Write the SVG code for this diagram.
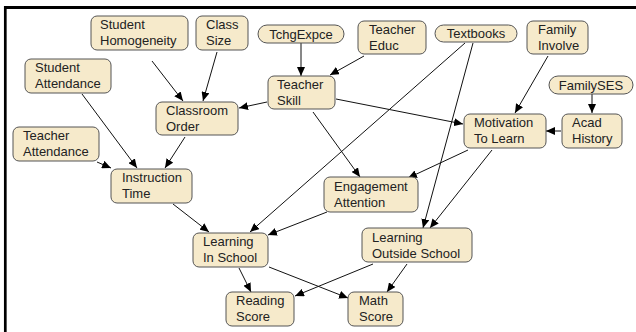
<svg xmlns="http://www.w3.org/2000/svg" width="636" height="332" viewBox="0 0 636 332">
<style>
.n rect{fill:#f6eacb;stroke:#555;stroke-width:1}
.n text{font-family:"Liberation Sans",Arial,sans-serif;font-size:13px;fill:#222}
.p text{text-anchor:middle}
#edges line{stroke:#111;stroke-width:1;marker-end:url(#ah)}
</style>
<defs>
<marker id="ah" markerUnits="userSpaceOnUse" markerWidth="10" markerHeight="8" refX="9" refY="4" orient="auto">
<path d="M0,0 L9,4 L0,8 Z" fill="#000"/>
</marker>
</defs>
<rect x="0" y="0" width="636" height="332" fill="#fff"/>
<line x1="5.3" y1="6" x2="5.3" y2="332" stroke="#000" stroke-width="2.7"/>
<line x1="4" y1="7.5" x2="636" y2="7.5" stroke="#000" stroke-width="3"/>
<g id="edges">
<line x1="152" y1="61" x2="183" y2="101"/>
<line x1="217" y1="52" x2="203" y2="101"/>
<line x1="82" y1="94" x2="137" y2="168"/>
<line x1="97" y1="162" x2="111" y2="168"/>
<line x1="185" y1="137" x2="165" y2="168"/>
<line x1="301" y1="43" x2="301" y2="76"/>
<line x1="364" y1="56" x2="330" y2="75"/>
<line x1="267" y1="102" x2="239" y2="108"/>
<line x1="336" y1="99" x2="463" y2="124"/>
<line x1="313" y1="112" x2="360" y2="177"/>
<line x1="465" y1="43" x2="250" y2="232"/>
<line x1="473" y1="43" x2="423" y2="228"/>
<line x1="548" y1="56" x2="515" y2="113"/>
<line x1="592" y1="94" x2="592" y2="113"/>
<line x1="561" y1="131" x2="546" y2="131"/>
<line x1="468" y1="150" x2="408" y2="178"/>
<line x1="492" y1="150" x2="430" y2="228"/>
<line x1="173" y1="204" x2="209" y2="232"/>
<line x1="327" y1="212" x2="268" y2="235"/>
<line x1="239" y1="268" x2="251" y2="292"/>
<line x1="269" y1="267" x2="348" y2="298"/>
<line x1="373" y1="264" x2="295" y2="296"/>
<line x1="407" y1="264" x2="387" y2="292"/>
</g>
<g id="student-homogeneity" class="n"><rect x="91" y="16" width="97" height="34" rx="6"/><text x="100" y="29">Student</text><text x="100" y="45">Homogeneity</text></g>
<g id="class-size" class="n"><rect x="196" y="16" width="52" height="34" rx="6"/><text x="206" y="29">Class</text><text x="206" y="45">Size</text></g>
<g id="tchgexpce" class="n p"><rect x="258" y="25" width="86" height="18" rx="9"/><text x="301" y="38.5">TchgExpce</text></g>
<g id="teacher-educ" class="n"><rect x="358" y="21" width="68" height="33" rx="6"/><text x="369" y="34">Teacher</text><text x="369" y="50">Educ</text></g>
<g id="textbooks" class="n p"><rect x="435" y="25" width="82" height="17" rx="8.5"/><text x="476" y="38">Textbooks</text></g>
<g id="family-involve" class="n"><rect x="527" y="21" width="61" height="33" rx="6"/><text x="538" y="34">Family</text><text x="538" y="50">Involve</text></g>
<g id="student-attendance" class="n"><rect x="25" y="59" width="86" height="34" rx="6"/><text x="35" y="72">Student</text><text x="35" y="88">Attendance</text></g>
<g id="teacher-skill" class="n"><rect x="268" y="76" width="67" height="33" rx="6"/><text x="277" y="89">Teacher</text><text x="277" y="105">Skill</text></g>
<g id="familyses" class="n p"><rect x="549" y="76" width="84" height="18" rx="9"/><text x="591" y="89.5">FamilySES</text></g>
<g id="classroom-order" class="n"><rect x="156" y="102" width="82" height="33" rx="6"/><text x="166" y="115">Classroom</text><text x="166" y="131">Order</text></g>
<g id="motivation" class="n"><rect x="464" y="114" width="82" height="34" rx="6"/><text x="474" y="127">Motivation</text><text x="474" y="143">To Learn</text></g>
<g id="acad-history" class="n"><rect x="562" y="114" width="60" height="34" rx="6"/><text x="572" y="127">Acad</text><text x="572" y="143">History</text></g>
<g id="teacher-attendance" class="n"><rect x="13" y="127" width="86" height="34" rx="6"/><text x="23" y="140">Teacher</text><text x="23" y="156">Attendance</text></g>
<g id="instruction-time" class="n"><rect x="111" y="169" width="81" height="34" rx="6"/><text x="122" y="182">Instruction</text><text x="122" y="198">Time</text></g>
<g id="engagement" class="n"><rect x="324" y="177" width="94" height="35" rx="6"/><text x="334" y="191">Engagement</text><text x="334" y="207">Attention</text></g>
<g id="learning-outside" class="n"><rect x="362" y="228" width="110" height="34" rx="6"/><text x="372" y="242">Learning</text><text x="372" y="258">Outside School</text></g>
<g id="learning-in" class="n"><rect x="193" y="233" width="75" height="34" rx="6"/><text x="203" y="246">Learning</text><text x="203" y="262">In School</text></g>
<g id="reading-score" class="n"><rect x="226" y="292" width="68" height="34" rx="6"/><text x="236" y="305">Reading</text><text x="236" y="321">Score</text></g>
<g id="math-score" class="n"><rect x="348" y="292" width="55" height="34" rx="6"/><text x="359" y="305">Math</text><text x="359" y="321">Score</text></g>
</svg>
